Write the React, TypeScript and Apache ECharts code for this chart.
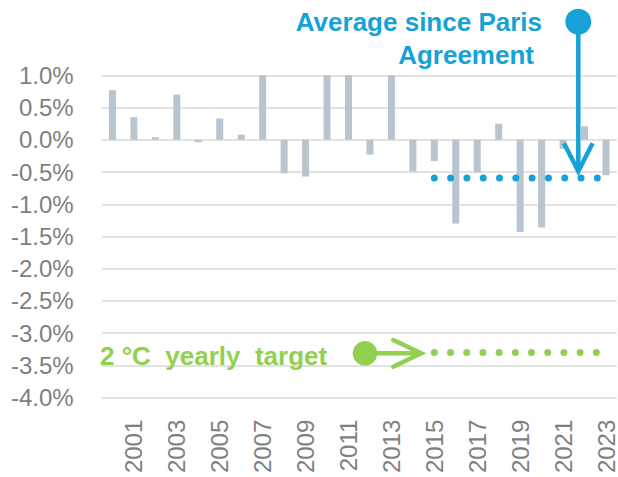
import React, { useEffect, useRef } from "react";
import * as echarts from "echarts";

const years = [
  "2000", "2001", "2002", "2003", "2004", "2005", "2006", "2007", "2008", "2009", "2010", "2011",
  "2012", "2013", "2014", "2015", "2016", "2017", "2018", "2019", "2020", "2021", "2022", "2023",
];
const changes = [
  0.77, 0.35, 0.04, 0.7, -0.04, 0.33, 0.08, 1.0, -0.52, -0.57, 1.0, 1.0,
  -0.23, 1.0, -0.49, -0.33, -1.3, -0.505, 0.25, -1.43, -1.36, -0.14, 0.21, -0.55,
];
const yTicks = { min: -4, max: 1, interval: 0.5 };
const parisAverage = -0.593;
const targetYearly = -3.3;
const dottedFrom = 15; // index of 2015
const dottedTo = 22.6;

const BLUE = "#16a2d6";
const GREEN = "#92d050";
const GRAY = "#7f7f7f";
const FONT = "'Liberation Sans', Arial, sans-serif";

export default function App() {
  const ref = useRef<HTMLDivElement>(null);
  useEffect(() => {
    if (!ref.current) return;
    const chart = echarts.init(ref.current, null, { renderer: "svg" });
    chart.setOption({
      animation: false,
      grid: { left: 101.7, right: 1, top: 75.3, bottom: 79.3, containLabel: false },
      xAxis: [
        {
          type: "category",
          data: years,
          position: "bottom",
          axisLine: { show: false },
          axisTick: { show: false },
          axisLabel: {
            rotate: 90,
            interval: (i: number) => i % 2 === 1,
            color: GRAY,
            fontSize: 24,
            fontFamily: FONT,
            margin: 22,
          },
          splitLine: { show: false },
        },
        {
          type: "value",
          min: -0.5,
          max: years.length - 0.5,
          show: false,
        },
      ],
      yAxis: {
        type: "value",
        min: yTicks.min,
        max: yTicks.max,
        interval: yTicks.interval,
        axisLine: { show: false },
        axisTick: { show: false },
        axisLabel: {
          formatter: (v: number) => v.toFixed(1) + "%",
          color: GRAY,
          fontSize: 24,
          fontFamily: FONT,
          margin: 28,
        },
        splitLine: { lineStyle: { color: "#d9d9d9", width: 1.5 } },
      },
      series: [
        {
          type: "bar",
          data: changes,
          barWidth: 7,
          itemStyle: { color: "#b8c4d0" },
        },
        {
          type: "line",
          xAxisIndex: 1,
          symbol: "none",
          data: [
            [dottedFrom, parisAverage],
            [dottedTo, parisAverage],
          ],
          lineStyle: { color: BLUE, width: 7, type: [0, 16.3], cap: "round" },
          z: 5,
        },
        {
          type: "line",
          xAxisIndex: 1,
          symbol: "none",
          data: [
            [dottedFrom, targetYearly],
            [dottedTo, targetYearly],
          ],
          lineStyle: { color: GREEN, width: 7, type: [0, 16.2], cap: "round" },
          z: 5,
        },
      ],
      graphic: [
        // Blue annotation
        {
          type: "text",
          z: 100,
          style: {
            text: "Average since Paris",
            x: 542,
            y: 22,
            align: "right",
            verticalAlign: "middle",
            fill: BLUE,
            font: `bold 26px ${FONT}`,
          },
        },
        {
          type: "text",
          z: 100,
          style: {
            text: "Agreement",
            x: 534,
            y: 54.5,
            align: "right",
            verticalAlign: "middle",
            fill: BLUE,
            font: `bold 26px ${FONT}`,
          },
        },
        {
          type: "line",
          z: 100,
          shape: { x1: 578.3, y1: 22, x2: 578.3, y2: 170 },
          style: { stroke: BLUE, lineWidth: 4.5 },
        },
        {
          type: "polyline",
          z: 100,
          shape: { points: [[564, 143.3], [578.3, 171.2], [592.6, 143.3]] },
          style: { stroke: BLUE, lineWidth: 4.5, fill: null },
        },
        {
          type: "circle",
          z: 101,
          shape: { cx: 578.3, cy: 21.7, r: 13 },
          style: { fill: BLUE },
        },
        // Green annotation
        {
          type: "text",
          z: 100,
          style: {
            text: "2 °C\u00a0 yearly\u00a0 target",
            x: 100,
            y: 356,
            align: "left",
            verticalAlign: "middle",
            fill: GREEN,
            font: `bold 26px ${FONT}`,
          },
        },
        {
          type: "line",
          z: 100,
          shape: { x1: 365, y1: 353.3, x2: 420, y2: 353.3 },
          style: { stroke: GREEN, lineWidth: 4.5 },
        },
        {
          type: "polyline",
          z: 100,
          shape: { points: [[393.3, 340], [421.2, 353.3], [393.3, 366.7]] },
          style: { stroke: GREEN, lineWidth: 4.5, fill: null, lineCap: "round" },
        },
        {
          type: "circle",
          z: 101,
          shape: { cx: 365, cy: 353.3, r: 12.3 },
          style: { fill: GREEN },
        },
      ],
    });
    return () => chart.dispose();
  }, []);
  return (
    <div
      ref={ref}
      style={{ position: "fixed", left: 0, top: 0, width: 618, height: 477, background: "#fff" }}
    />
  );
}
